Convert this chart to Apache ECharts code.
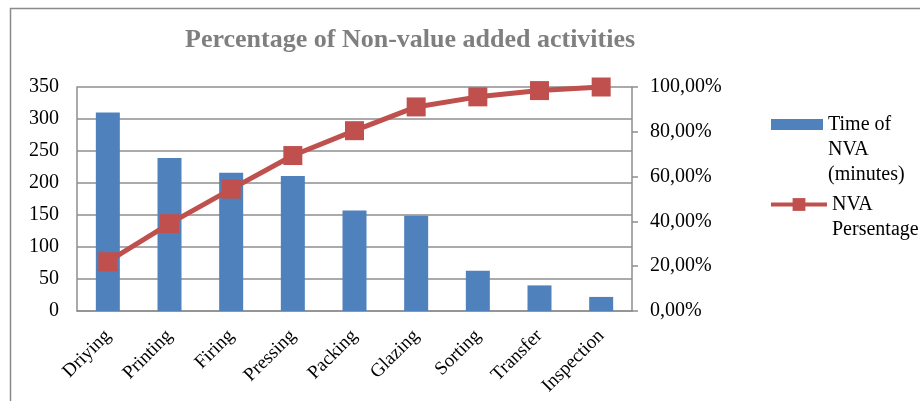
<!DOCTYPE html>
<html>
<head>
<meta charset="utf-8">
<script src="https://cdn.jsdelivr.net/npm/echarts@6/dist/echarts.min.js"></script>
<style>
  html, body { margin: 0; padding: 0; background: #fff; }
  #chart { width: 920px; height: 401px; }
</style>
</head>
<body>
<div id="chart"></div>
<script>
// activities (x axis)
var activities = ['Driying', 'Printing', 'Firing', 'Pressing', 'Packing', 'Glazing', 'Sorting', 'Transfer', 'Inspection'];

// time of NVA in minutes (bars, left axis)
var nvaTime = [310, 239, 216, 211, 157, 149, 63, 40, 22];

// cumulative NVA percentage (line, right axis)
var nvaPercent = [0.22, 0.39, 0.544, 0.694, 0.805, 0.911, 0.956, 0.984, 1.0];

var barName = 'Time of NVA (minutes)';
var lineName = 'NVA Persentage';

var font = 'Liberation Serif, Times New Roman, serif';
var gridColor = '#8e8e8e';

var chart = echarts.init(document.getElementById('chart'));

// legend text is centred on its icon, so blank lines on top put the icon beside the first line
var legendText = { fontFamily: font, fontSize: 20, color: '#000', lineHeight: 25 };

var option = {
  backgroundColor: '#ffffff',
  animation: false,
  textStyle: { fontFamily: font },
  title: {
    text: 'Percentage of Non-value added activities',
    left: 180,
    top: 22,
    textStyle: {
      fontFamily: font,
      fontSize: 26,
      fontWeight: 'bold',
      color: '#7f7f7f'
    }
  },
  graphic: [
    {
      // outer chart border
      type: 'rect',
      left: 8,
      top: 6,
      shape: { width: 1000, height: 1000 },
      style: { fill: 'none', stroke: '#8a8a8a', lineWidth: 1.5 },
      silent: true
    }
  ],
  legend: [
    {
      data: [{ name: barName, icon: 'rect' }],
      left: 766,
      top: 57,
      itemWidth: 52,
      itemHeight: 11,
      formatter: function () { return '\n\nTime of\nNVA\n(minutes)'; },
      textStyle: legendText
    },
    {
      data: [lineName],
      left: 764,
      top: 162,
      itemWidth: 56,
      itemHeight: 16,
      lineStyle: { width: 4 },
      formatter: function () { return '\nNVA\nPersentage'; },
      textStyle: legendText
    }
  ],
  grid: {
    left: 77,
    right: 288,
    top: 87,
    bottom: 90
  },
  xAxis: {
    type: 'category',
    data: activities,
    axisLine: { show: true, lineStyle: { color: gridColor, width: 1.5 } },
    axisTick: { show: false },
    axisLabel: {
      rotate: 45,
      interval: 0,
      margin: 22,
      fontFamily: font,
      fontSize: 19,
      color: '#000'
    }
  },
  yAxis: [
    {
      type: 'value',
      min: 0,
      max: 350,
      interval: 50,
      axisLine: { show: true, lineStyle: { color: gridColor, width: 1.5 } },
      axisTick: { show: false },
      splitLine: { show: true, lineStyle: { color: gridColor, width: 1.5 } },
      axisLabel: { margin: 18, fontFamily: font, fontSize: 20, color: '#000' }
    },
    {
      type: 'value',
      min: 0,
      max: 1,
      interval: 0.2,
      position: 'right',
      axisLine: { show: true, lineStyle: { color: gridColor, width: 1.5 } },
      axisTick: { show: true, length: 6, lineStyle: { color: gridColor, width: 1.5 } },
      splitLine: { show: false },
      axisLabel: {
        margin: 18,
        fontFamily: font,
        fontSize: 20,
        color: '#000',
        formatter: function (v) {
          return (v * 100).toFixed(2).replace('.', ',') + '%';
        }
      }
    }
  ],
  series: [
    {
      name: barName,
      type: 'bar',
      data: nvaTime,
      barWidth: 24,
      itemStyle: { color: '#4f81bd' }
    },
    {
      name: lineName,
      type: 'line',
      yAxisIndex: 1,
      data: nvaPercent,
      symbol: 'rect',
      symbolSize: 19,
      lineStyle: { color: '#c0504d', width: 5 },
      itemStyle: { color: '#c0504d' }
    }
  ]
};

chart.setOption(option);
</script>
</body>
</html>
